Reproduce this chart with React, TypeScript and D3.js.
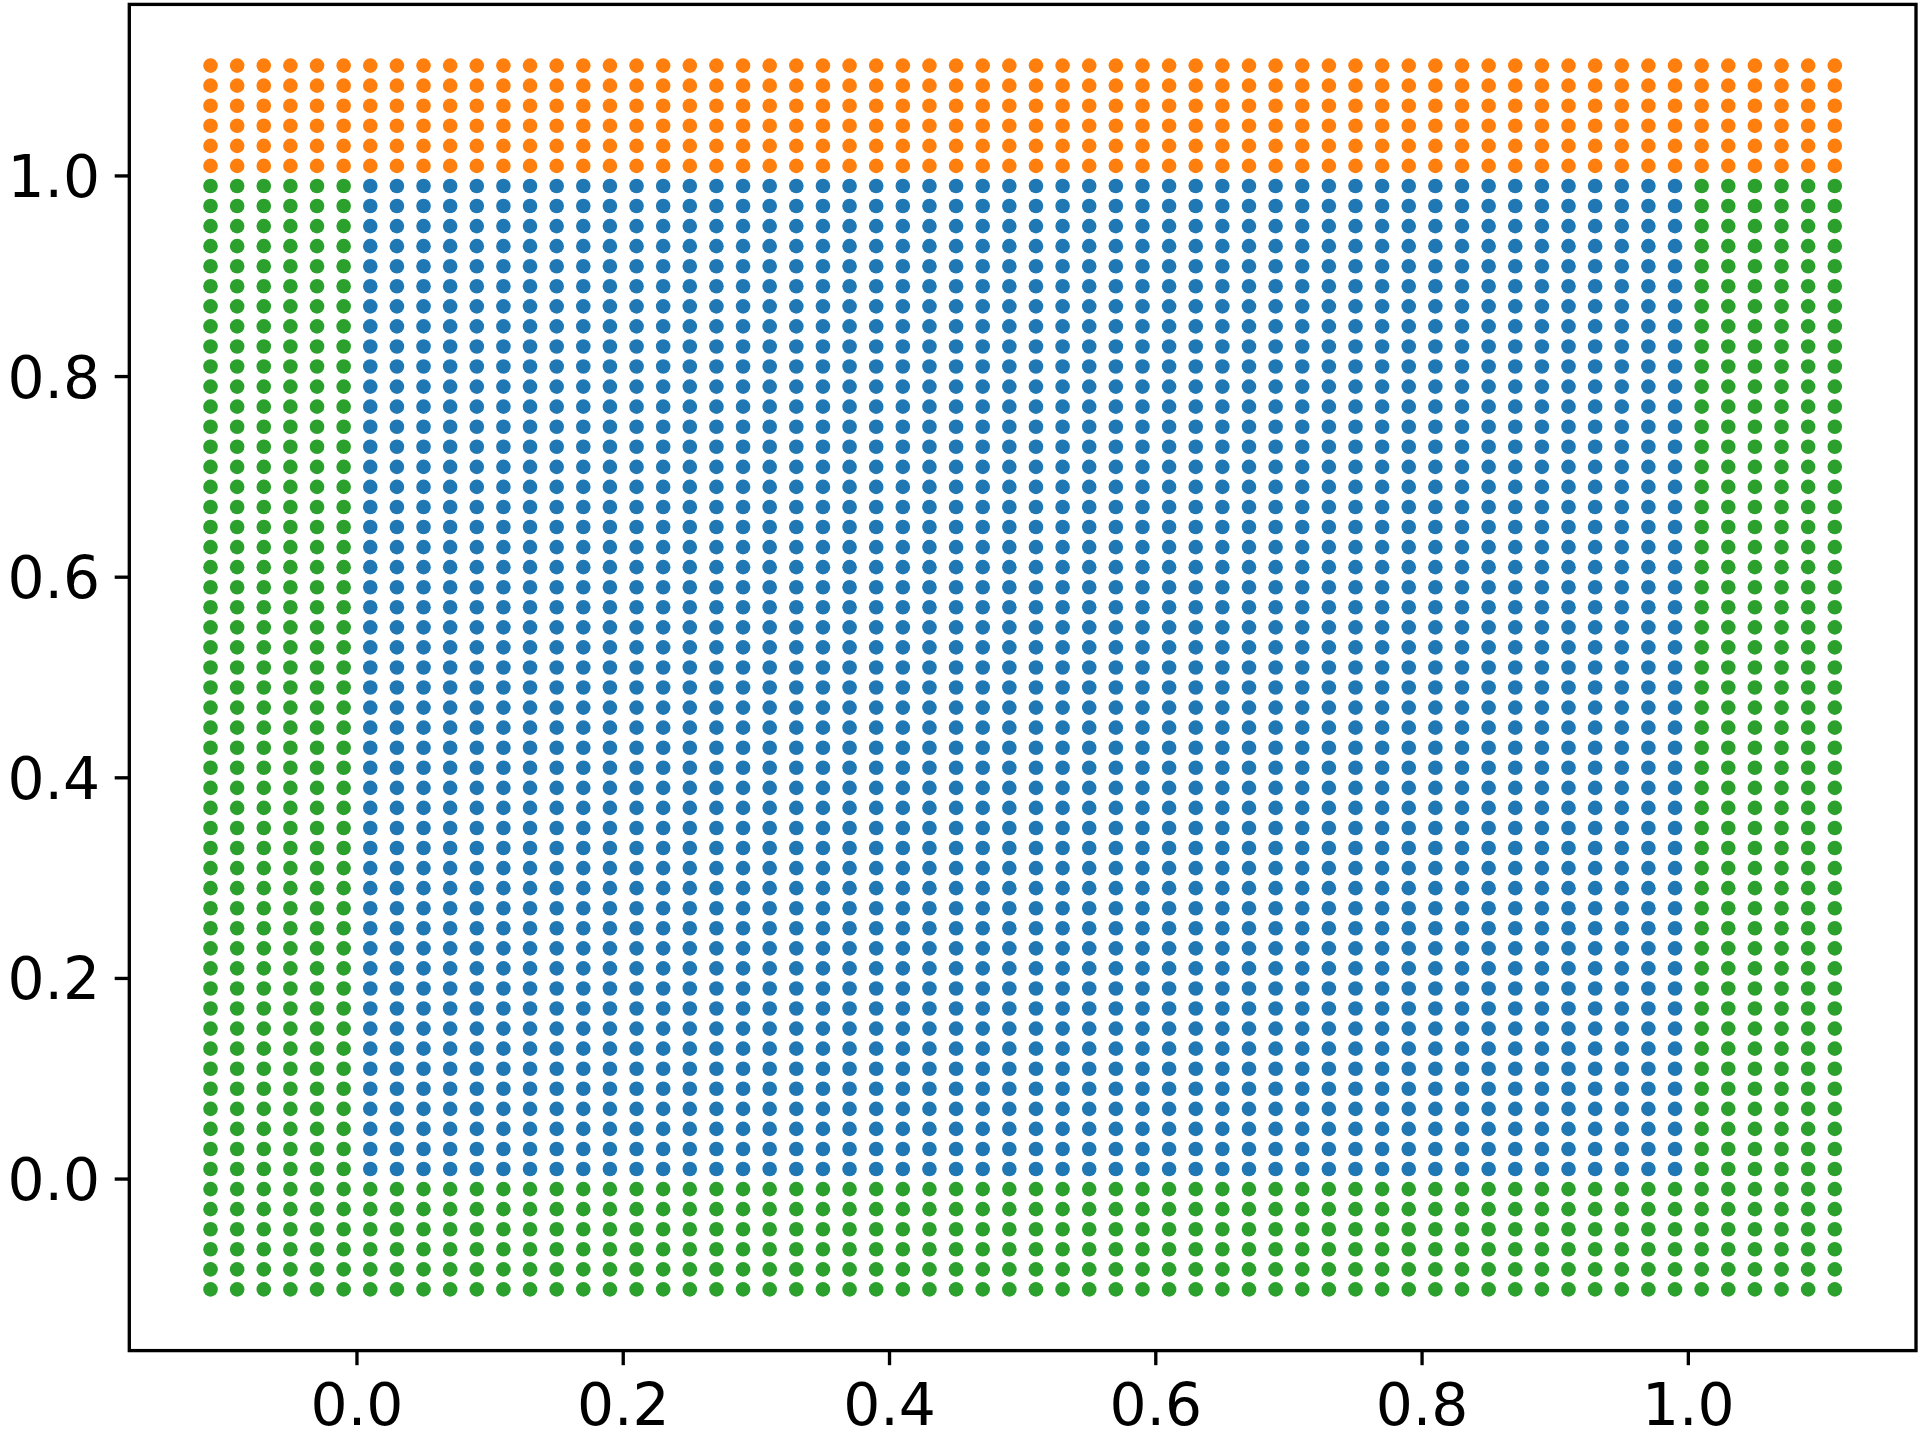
import React from "react";
import * as d3 from "d3";

// Grid coordinates of the scattered points
const xValues: number[] = [
  -0.11, -0.09, -0.07, -0.05, -0.03, -0.01, 0.01, 0.03, 0.05, 0.07, 0.09, 0.11, 0.13, 0.15, 0.17, 0.19,
  0.21, 0.23, 0.25, 0.27, 0.29, 0.31, 0.33, 0.35, 0.37, 0.39, 0.41, 0.43, 0.45, 0.47, 0.49, 0.51,
  0.53, 0.55, 0.57, 0.59, 0.61, 0.63, 0.65, 0.67, 0.69, 0.71, 0.73, 0.75, 0.77, 0.79, 0.81, 0.83,
  0.85, 0.87, 0.89, 0.91, 0.93, 0.95, 0.97, 0.99, 1.01, 1.03, 1.05, 1.07, 1.09, 1.11,
];
const yValues: number[] = [
  -0.11, -0.09, -0.07, -0.05, -0.03, -0.01, 0.01, 0.03, 0.05, 0.07, 0.09, 0.11, 0.13, 0.15, 0.17, 0.19,
  0.21, 0.23, 0.25, 0.27, 0.29, 0.31, 0.33, 0.35, 0.37, 0.39, 0.41, 0.43, 0.45, 0.47, 0.49, 0.51,
  0.53, 0.55, 0.57, 0.59, 0.61, 0.63, 0.65, 0.67, 0.69, 0.71, 0.73, 0.75, 0.77, 0.79, 0.81, 0.83,
  0.85, 0.87, 0.89, 0.91, 0.93, 0.95, 0.97, 0.99, 1.01, 1.03, 1.05, 1.07, 1.09, 1.11,
];
// Region boundaries of the classes
const insideMin = 0;
const insideMax = 1;
const categories = ["inside", "top", "outside"];
const categoryColors = ["#1f77b4", "#ff7f0e", "#2ca02c"];

const xTicks: number[] = [0, 0.2, 0.4, 0.6, 0.8, 1.0];
const yTicks: number[] = [0, 0.2, 0.4, 0.6, 0.8, 1.0];
const xTickLabels: string[] = ["0.0", "0.2", "0.4", "0.6", "0.8", "1.0"];
const yTickLabels: string[] = ["0.0", "0.2", "0.4", "0.6", "0.8", "1.0"];

function classify(x: number, y: number): string {
  if (y > insideMax) return "top";
  if (x < insideMin || x > insideMax || y < insideMin) return "outside";
  return "inside";
}

export default function App() {
  const W = 1920;
  const H = 1440;
  const left = 129.3;
  const right = 1916;
  const top = 4.4;
  const bottom = 1350.6;

  const [x0, x1] = d3.extent(xValues) as [number, number];
  const [y0, y1] = d3.extent(yValues) as [number, number];
  const mx = (x1 - x0) * 0.05;
  const my = (y1 - y0) * 0.05;
  const xScale = d3.scaleLinear().domain([x0 - mx, x1 + mx]).range([left, right]);
  const yScale = d3.scaleLinear().domain([y0 - my, y1 + my]).range([bottom, top]);
  const color = d3.scaleOrdinal<string, string>().domain(categories).range(categoryColors);

  const points: { x: number; y: number; c: string }[] = [];
  for (const c of categories) {
    for (const y of yValues) {
      for (const x of xValues) {
        if (classify(x, y) === c) points.push({ x, y, c });
      }
    }
  }

  const tickLen = 14.6;
  const pad = 14.6;
  const fontSize = 58.3;
  const lw = 3.33;

  return (
    <svg
      width={W}
      height={H}
      style={{ position: "absolute", left: 0, top: 0, background: "#fff" }}
      xmlns="http://www.w3.org/2000/svg"
    >
      <rect x={0} y={0} width={W} height={H} fill="#fff" />
      <g>
        {points.map((p, i) => (
          <circle key={i} cx={xScale(p.x)} cy={yScale(p.y)} r={7.3} fill={color(p.c)} />
        ))}
      </g>
      <rect
        x={left}
        y={top}
        width={right - left}
        height={bottom - top}
        fill="none"
        stroke="#000"
        strokeWidth={lw}
        strokeLinejoin="miter"
      />
      <g fontFamily="DejaVu Sans" fontSize={fontSize} fill="#000">
        {xTicks.map((t, i) => (
          <g key={"x" + i}>
            <line x1={xScale(t)} x2={xScale(t)} y1={bottom} y2={bottom + tickLen} stroke="#000" strokeWidth={lw} />
            <text x={xScale(t)} y={1425} textAnchor="middle">
              {xTickLabels[i]}
            </text>
          </g>
        ))}
        {yTicks.map((t, i) => (
          <g key={"y" + i}>
            <line x1={left - tickLen} x2={left} y1={yScale(t)} y2={yScale(t)} stroke="#000" strokeWidth={lw} />
            <text x={left - tickLen - pad} y={yScale(t)} dy="0.36em" textAnchor="end">
              {yTickLabels[i]}
            </text>
          </g>
        ))}
      </g>
    </svg>
  );
}
